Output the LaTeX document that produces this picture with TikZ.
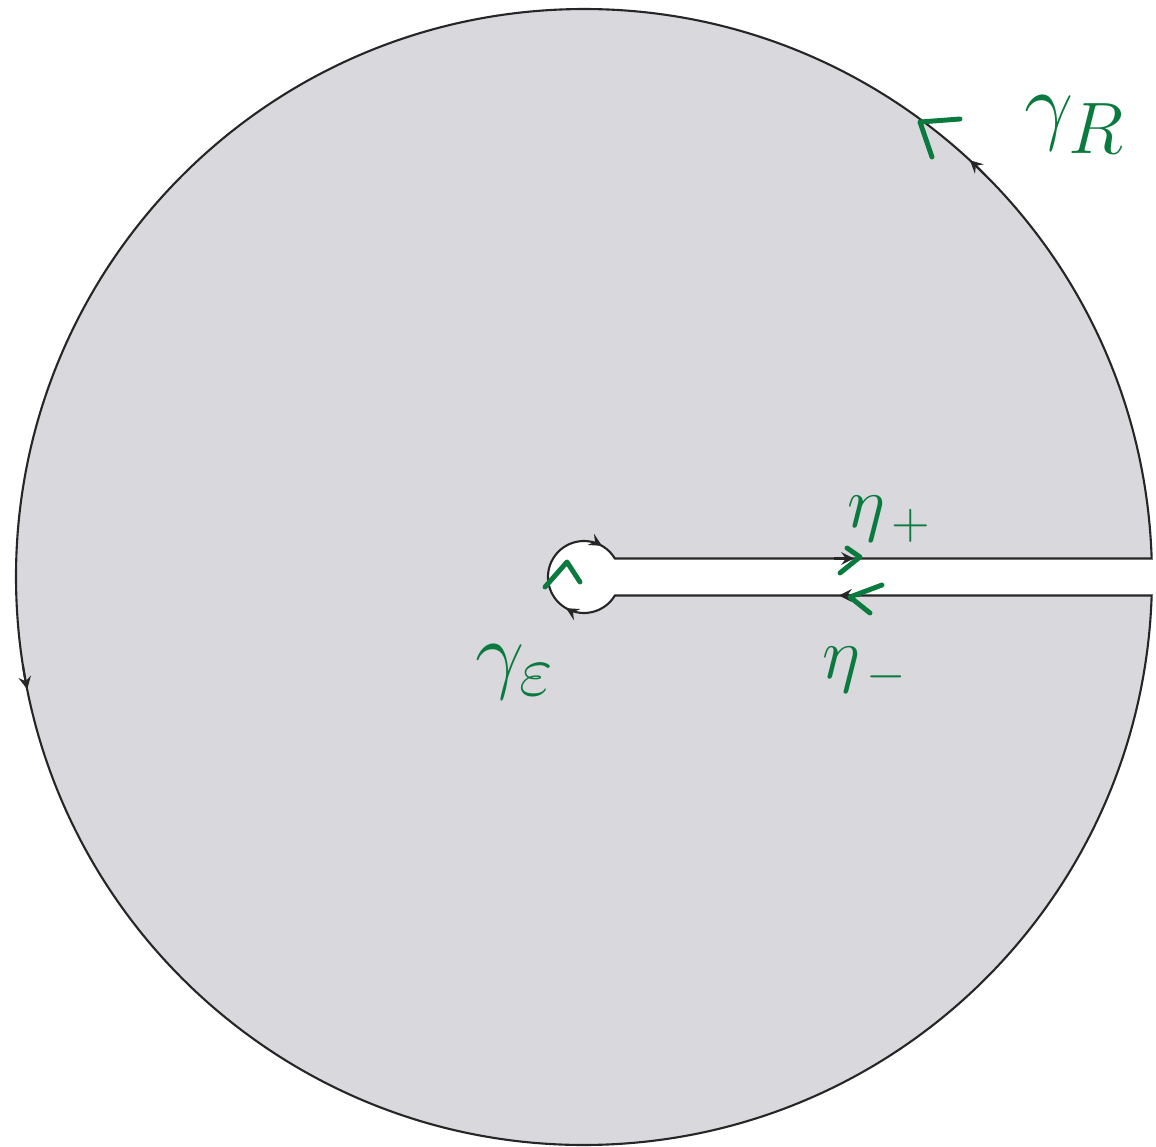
\documentclass[tikz,border=0pt]{standalone}
\definecolor{regiongray}{RGB}{217,216,221}
\definecolor{inkgreen}{RGB}{10,122,62}
\tikzset{
  contour/.style={draw=black!85, line width=0.6pt, fill=regiongray},
  tipmark/.style={->, line width=0.6pt, black!85},
  ink/.style={inkgreen, line width=1.4pt, line cap=round, line join=round},
  hand/.style={text=inkgreen, font=\fontsize{24.88}{30}\selectfont},
}
\begin{document}
\begin{tikzpicture}[>=stealth, x=0.01cm, y=0.01cm]
    \useasboundingbox (-584,-570) rectangle (572,577);

    % Keyhole region
    \path[contour] (30.9:36) -- (1.87:568) arc (1.87:358.13:568)
        -- (-30.9:36) arc (-30.9:-329.1:36) -- cycle;

    % Arrows on gamma_R
    \draw[tipmark] (45:568) arc (45:47.2:568);
    \draw[tipmark] (189:568) arc (189:191.4:568);

    % Arrows on the slit
    \draw[tipmark] (250,18.5) -- (270,18.5);
    \draw[tipmark] (275,-18.5) -- (255,-18.5);

    % Arrows on gamma_eps
    \draw[tipmark] (70:36) arc (70:60:36);
    \draw[tipmark] (250:36) arc (250:240:36);

    % Hand marks
    \draw[ink] (376,458) -- (336,455) -- (348,420);
    \draw[ink] (263,29) -- (276,20) -- (256,4);
    \draw[ink] (298,-8) -- (266,-20) -- (286,-36);
    \draw[ink] (-39,-10) -- (-17,15) -- (-4,-5);

    % Labels
    \node[hand] (gammaR) at (491,452) {$\gamma_R$};
    \node[hand, font=\fontsize{20.74}{26}\selectfont] (etaplus) at (306,58) {$\eta_{\,+}$};
    \node[hand, font=\fontsize{20.74}{26}\selectfont] (etaminus) at (281,-93) {$\eta_{\,-}$};
    \node[hand] (gammaeps) at (-69,-95) {$\gamma_\varepsilon$};
\end{tikzpicture}
\end{document}
